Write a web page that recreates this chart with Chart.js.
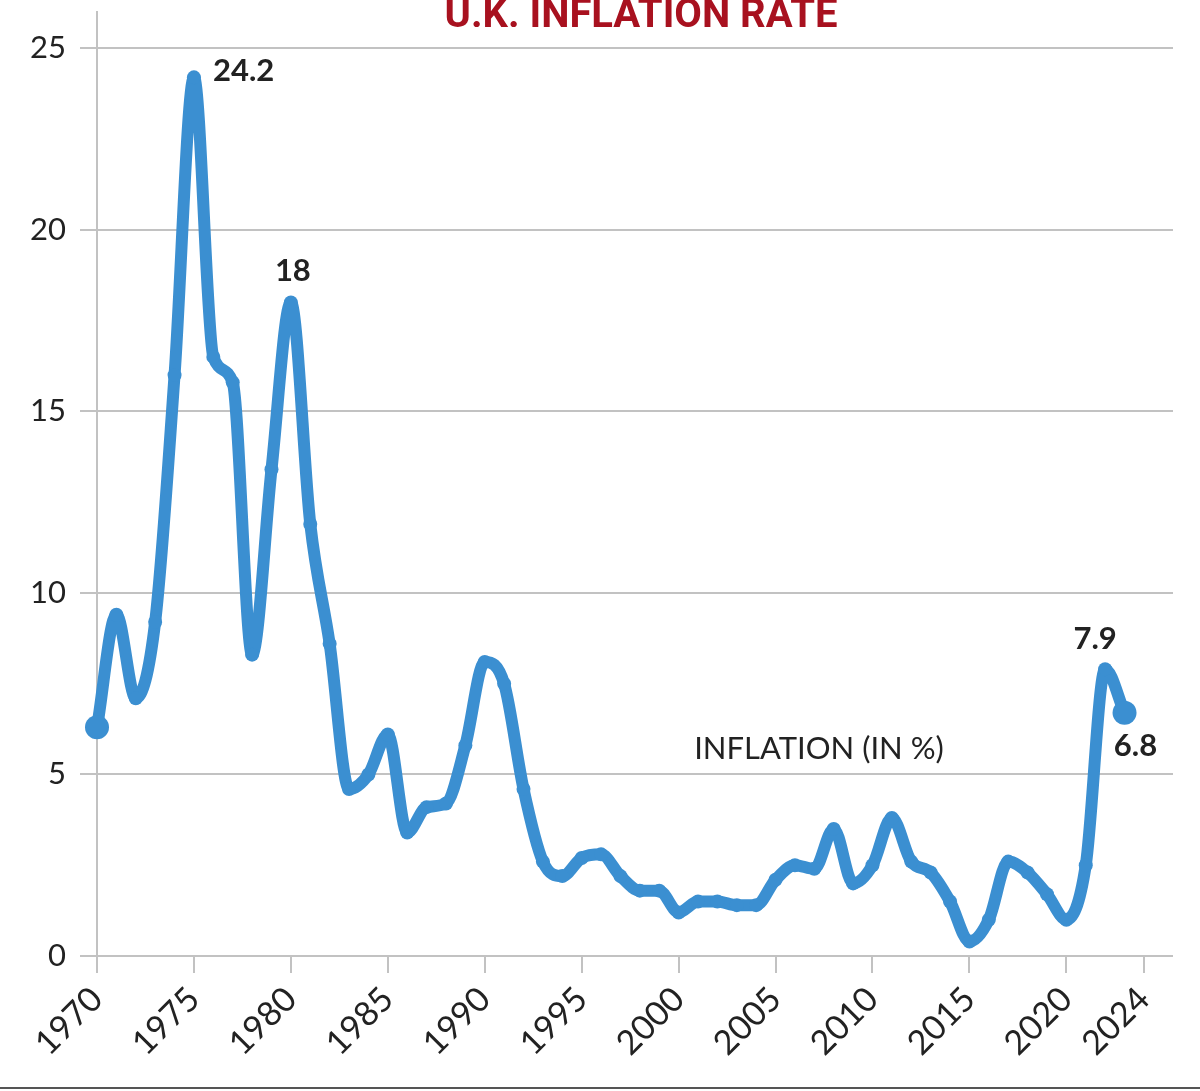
<!DOCTYPE html>
<html>
<head>
<meta charset="utf-8">
<script src="https://cdn.jsdelivr.net/npm/chart.js@4.4.1/dist/chart.umd.min.js"></script>
<style>
  html, body { margin: 0; padding: 0; background: #fff; }
  #wrap { position: relative; width: 1200px; height: 1091px; }
  canvas { display: block; }
</style>
</head>
<body>
<div id="wrap"><canvas id="inflationChart" width="1200" height="1091"></canvas></div>
<script>
// UK inflation, yearly (%)
const years = [];
for (let y = 1970; y <= 2023; y++) years.push(y);
const inflation = [
  6.3, 9.4, 7.1, 9.2, 16.0, 24.2, 16.5, 15.8, 8.3, 13.4,
  18.0, 11.9, 8.6, 4.6, 5.0, 6.1, 3.4, 4.1, 4.2, 5.8,
  8.1, 7.5, 4.6, 2.6, 2.2, 2.7, 2.8, 2.2, 1.8, 1.8,
  1.2, 1.5, 1.5, 1.4, 1.4, 2.1, 2.5, 2.4, 3.5, 2.0,
  2.5, 3.8, 2.6, 2.3, 1.5, 0.4, 1.0, 2.6, 2.3, 1.7,
  1.0, 2.5, 7.9, 6.7
];
const xTicks = [1970, 1975, 1980, 1985, 1990, 1995, 2000, 2005, 2010, 2015, 2020, 2024];
const yTicks = [0, 5, 10, 15, 20, 25];
const calloutYears = [1975, 1980, 2022, 2023];
const calloutTexts = ['24.2', '18', '7.9', '6.8'];

const LINE_BLUE = '#3b8fd1';
const TEXT_DARK = '#222222';
const GRID_GREY = '#c2c2c2';

const points = years.map((y, i) => ({ x: y, y: inflation[i] }));
const radii = points.map((p, i) => (i === 0 || i === points.length - 1) ? 12 : 7);

// title, callouts, series note and bottom rule
const decorPlugin = {
  id: 'decor',
  afterDatasetsDraw(chart) {
    const ctx = chart.ctx;
    const xs = chart.scales.x, ys = chart.scales.y;
    ctx.save();

    ctx.fillStyle = '#a8111f';
    ctx.font = 'bold 40px Roboto, "Noto Sans", sans-serif';
    ctx.textAlign = 'center';
    ctx.textBaseline = 'alphabetic';
    ctx.fillText('U.K. INFLATION RATE', 641, 27);

    // callout offsets: [dx, dy, align]
    const offs = [[19, -6, 'left'], [2, -31, 'center'], [-10, -30, 'center'], [11, 33, 'center']];
    ctx.fillStyle = TEXT_DARK;
    ctx.font = 'bold 31px Lato, "Noto Sans", sans-serif';
    ctx.textBaseline = 'middle';
    calloutYears.forEach((yr, i) => {
      const v = inflation[years.indexOf(yr)];
      const px = xs.getPixelForValue(yr);
      const py = ys.getPixelForValue(v);
      ctx.textAlign = offs[i][2];
      ctx.fillText(calloutTexts[i], px + offs[i][0], py + offs[i][1]);
    });

    ctx.font = '31px Lato, "Noto Sans", sans-serif';
    ctx.textAlign = 'left';
    ctx.fillText('INFLATION (IN %)', xs.getPixelForValue(2000.8), ys.getPixelForValue(5.7));

    ctx.strokeStyle = '#555';
    ctx.lineWidth = 2;
    ctx.beginPath();
    ctx.moveTo(0, 1088);
    ctx.lineTo(1200, 1088);
    ctx.stroke();
    ctx.restore();
  }
};

new Chart(document.getElementById('inflationChart'), {
  type: 'line',
  data: {
    datasets: [{
      data: points,
      borderColor: LINE_BLUE,
      backgroundColor: LINE_BLUE,
      borderWidth: 12,
      pointRadius: radii,
      pointBackgroundColor: LINE_BLUE,
      pointBorderColor: LINE_BLUE,
      pointBorderWidth: 0,
      cubicInterpolationMode: 'monotone',
      borderCapStyle: 'round',
      borderJoinStyle: 'round',
      clip: false
    }]
  },
  options: {
    responsive: false,
    animation: false,
    layout: { padding: { top: 5, right: 27, left: 0, bottom: 0 } },
    plugins: { legend: { display: false }, tooltip: { enabled: false } },
    scales: {
      x: {
        type: 'linear',
        min: 1970,
        max: 2025.5,
        afterBuildTicks: s => { s.ticks = xTicks.map(v => ({ value: v })); },
        afterFit: s => { s.height = 135; s.paddingRight = 0; },
        grid: { drawOnChartArea: false, drawTicks: true, tickLength: 17, color: GRID_GREY, lineWidth: 2 },
        border: { display: false },
        ticks: {
          color: TEXT_DARK,
          font: { family: 'Lato, "Noto Sans", sans-serif', size: 34 },
          maxRotation: 45,
          minRotation: 45,
          padding: 6,
          autoSkip: false,
          callback: v => String(v)
        }
      },
      y: {
        min: 0,
        max: 26.0,
        afterBuildTicks: s => { s.ticks = yTicks.map(v => ({ value: v })); },
        afterFit: s => { s.width = 97; s.paddingTop = 0; s.paddingBottom = 0; },
        grid: { color: GRID_GREY, lineWidth: 2, tickLength: 17 },
        border: { display: true, color: GRID_GREY, width: 2 },
        ticks: {
          color: TEXT_DARK,
          font: { family: 'Lato, "Noto Sans", sans-serif', size: 31 },
          padding: 14
        }
      }
    }
  },
  plugins: [decorPlugin]
});
</script>
</body>
</html>
